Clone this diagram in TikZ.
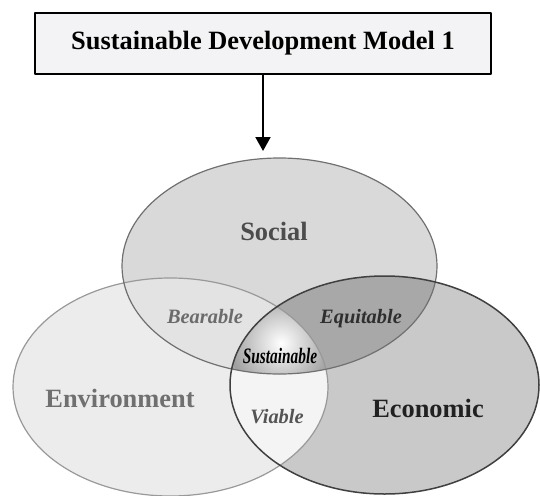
\documentclass[tikz,border=0pt]{standalone}
\usepackage{fontspec}
\setmainfont{Liberation Serif}
\usetikzlibrary{arrows.meta}
\definecolor{boxfill}{rgb}{0.953,0.949,0.957}
\definecolor{socfill}{rgb}{0.85,0.85,0.85}
\definecolor{envfill}{rgb}{0.925,0.925,0.925}
\definecolor{ecofill}{rgb}{0.79,0.79,0.79}
\definecolor{bearfill}{rgb}{0.89,0.89,0.89}
\definecolor{equifill}{rgb}{0.66,0.66,0.66}
\definecolor{viafill}{rgb}{0.955,0.955,0.955}
\definecolor{sustgray}{rgb}{0.62,0.62,0.62}
\definecolor{socline}{rgb}{0.44,0.44,0.44}
\definecolor{envline}{rgb}{0.6,0.6,0.6}
\definecolor{ecoline}{rgb}{0.25,0.25,0.25}
\definecolor{soctext}{rgb}{0.3,0.3,0.3}
\definecolor{envtext}{rgb}{0.44,0.44,0.44}
\definecolor{ecotext}{rgb}{0.13,0.13,0.13}
\definecolor{beartext}{rgb}{0.42,0.42,0.42}
\definecolor{equitext}{rgb}{0.18,0.18,0.18}
\definecolor{viatext}{rgb}{0.33,0.33,0.33}

\begin{document}
\begin{tikzpicture}[line cap=round,line join=round,>={Triangle[width=15pt,length=14pt]},x=1pt,y=-1pt,
  big/.style={font=\fontsize{26.4}{30}\selectfont\bfseries,anchor=base},
  part/.style={font=\fontsize{20.4}{24}\selectfont\bfseries\itshape,anchor=base}]
\clip(0,0) rectangle (540,495);
\fill[envfill] (170.5,387) ellipse (157.5pt and 109pt);
\fill[ecofill] (384.5,385) ellipse (154.5pt and 109pt);
\fill[socfill] (279.5,266) ellipse (157.5pt and 108pt);
\begin{scope}
\clip (170.5,387) ellipse (157.5pt and 109pt);
\fill[bearfill] (279.5,266) ellipse (157.5pt and 108pt);
\fill[viafill] (384.5,385) ellipse (154.5pt and 109pt);
\end{scope}
\begin{scope}
\clip (384.5,385) ellipse (154.5pt and 109pt);
\fill[equifill] (279.5,266) ellipse (157.5pt and 108pt);
\clip (170.5,387) ellipse (157.5pt and 109pt);
\clip (279.5,266) ellipse (157.5pt and 108pt);
\shade[inner color=white,outer color=sustgray] (281,343) circle (52pt);
\end{scope}
\draw[line width=1.2pt,color=envline] (170.5,387) ellipse (157.5pt and 109pt);
\draw[line width=1.2pt,color=socline] (279.5,266) ellipse (157.5pt and 108pt);
\draw[line width=1.5pt,color=ecoline] (384.5,385) ellipse (154.5pt and 109pt);
\node[big,draw,fill=boxfill,line width=2pt,minimum width=456pt,minimum height=61pt,inner sep=0pt,anchor=center] (title) at (263,43.5) {Sustainable Development Model 1};
\coordinate (tip) at (263,151);
\draw[->,line width=2pt] (title) -- (tip);
\node[big,color=soctext] (social) at (274,240) {Social};
\node[big,color=envtext] (environment) at (120,407) {Environment};
\node[big,color=ecotext] (economic) at (428,417) {Economic};
\node[part,color=beartext] (bearable) at (205,323) {Bearable};
\node[part,color=equitext] (equitable) at (361,323) {Equitable};
\node[part,color=viatext] (viable) at (277,423) {Viable};
\node[anchor=base] (sustainable) at (280,363) {\scalebox{0.7}[1]{\fontsize{22}{24}\selectfont\bfseries\itshape Sustainable}};
\end{tikzpicture}
\end{document}
